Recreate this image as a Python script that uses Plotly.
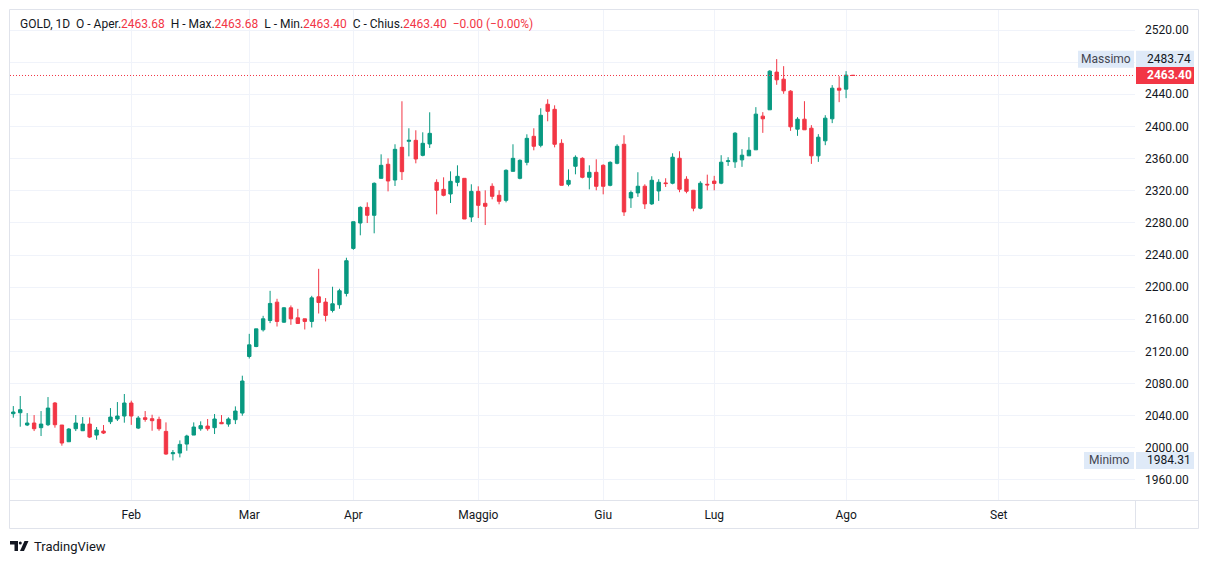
import plotly.graph_objects as go

# ---------------- data ----------------
opens = [2042.5, 2043.7, 2028.4, 2030.9, 2025.1, 2028.8, 2055.8, 2028.4, 2007.6, 2023.8,
         2021.3, 2029.6, 2015.9, 2020.9, 2032.5, 2035.9, 2039.6, 2055.8, 2024.6, 2037.5,
         2036.3, 2035.4, 2020.5, 1992.7, 1993.5, 2004.7, 2015.9, 2023.8, 2027.1, 2025.1,
         2031.7, 2029.6, 2035.0, 2043.3, 2113.7, 2126.1, 2146.9, 2158.5, 2181.3, 2156.4,
         2174.3, 2161.8, 2160.6, 2157.3, 2188.0, 2181.4, 2171.0, 2178.1, 2192.2, 2248.2,
         2279.8, 2299.3, 2289.4, 2335.4, 2352.9, 2333.3, 2374.0, 2381.5, 2382.7, 2364.0,
         2378.2, 2330.4, 2321.7, 2315.9, 2330.4, 2335.4, 2287.3, 2319.2, 2304.3, 2325.5,
         2314.3, 2308.0, 2344.1, 2335.4, 2355.3, 2387.7, 2376.5, 2427.6, 2421.3, 2379.0,
         2328.0, 2350.4, 2360.3, 2336.7, 2342.9, 2351.6, 2326.7, 2354.1, 2377.8, 2311.0,
         2317.3, 2325.6, 2303.6, 2319.7, 2329.7, 2329.3, 2360.4, 2334.3, 2320.6, 2298.2,
         2328.0, 2332.0, 2329.4, 2356.3, 2355.9, 2358.4, 2363.4, 2370.9, 2412.8, 2420.7,
         2467.6, 2458.8, 2443.9, 2396.6, 2409.0, 2397.8, 2363.4, 2382.1, 2409.5, 2447.6,
         2446.4, 2463.68]
highs = [2052.0, 2064.5, 2043.3, 2040.8, 2045.8, 2063.2, 2057.0, 2028.4, 2024.6, 2040.8,
         2038.3, 2037.9, 2025.9, 2028.4, 2049.5, 2057.0, 2067.0, 2058.7, 2039.6, 2045.8,
         2041.2, 2038.8, 2031.7, 1997.3, 2009.3, 2016.3, 2031.7, 2033.0, 2035.9, 2042.1,
         2040.8, 2038.0, 2051.6, 2089.8, 2141.9, 2148.1, 2164.3, 2195.4, 2185.5, 2175.1,
         2177.2, 2173.0, 2160.6, 2189.2, 2222.8, 2186.4, 2200.5, 2198.0, 2236.6, 2281.4,
         2300.6, 2305.5, 2330.4, 2365.3, 2360.3, 2377.8, 2431.3, 2397.7, 2395.2, 2392.7,
         2417.6, 2334.2, 2336.7, 2344.1, 2351.6, 2335.4, 2328.0, 2325.5, 2320.5, 2329.2,
         2320.5, 2346.6, 2377.8, 2359.1, 2390.2, 2397.7, 2422.6, 2433.8, 2426.3, 2384.0,
         2346.6, 2364.0, 2361.6, 2351.6, 2359.1, 2352.9, 2356.6, 2377.8, 2389.0, 2320.2,
         2343.0, 2328.0, 2338.0, 2334.3, 2335.5, 2366.6, 2369.1, 2338.0, 2320.6, 2331.8,
         2340.0, 2338.5, 2364.2, 2361.7, 2392.9, 2371.7, 2386.6, 2424.0, 2417.8, 2470.0,
         2483.74, 2475.0, 2445.1, 2411.5, 2431.4, 2401.6, 2390.4, 2414.0, 2451.4, 2462.6,
         2468.8, 2463.68]
lows = [2037.5, 2026.3, 2027.1, 2020.9, 2014.7, 2027.1, 2025.1, 2002.7, 2007.2, 2020.9,
        2020.9, 2012.2, 2010.1, 2017.2, 2029.6, 2033.4, 2031.3, 2028.6, 2023.4, 2032.5,
        2021.3, 2021.3, 1991.4, 1984.31, 1988.1, 1996.4, 2015.9, 2021.3, 2021.3, 2017.2,
        2029.6, 2026.3, 2029.6, 2040.0, 2111.2, 2125.3, 2144.8, 2155.2, 2151.0, 2155.6,
        2153.1, 2154.4, 2147.3, 2149.8, 2167.2, 2157.3, 2168.5, 2173.1, 2188.4, 2246.5,
        2264.5, 2279.8, 2267.0, 2335.4, 2319.2, 2325.9, 2333.3, 2362.8, 2354.1, 2362.8,
        2373.2, 2290.6, 2313.0, 2304.7, 2325.5, 2284.8, 2281.1, 2286.0, 2277.3, 2309.3,
        2303.1, 2305.5, 2344.1, 2334.2, 2351.6, 2370.3, 2374.0, 2406.4, 2374.0, 2326.7,
        2325.5, 2340.4, 2335.4, 2321.7, 2320.5, 2315.5, 2325.5, 2352.9, 2288.6, 2298.6,
        2312.3, 2297.3, 2302.3, 2307.3, 2324.7, 2328.0, 2318.1, 2316.8, 2294.4, 2296.9,
        2320.5, 2320.5, 2328.1, 2350.9, 2348.4, 2349.7, 2363.4, 2370.9, 2392.0, 2420.7,
        2451.8, 2440.6, 2394.5, 2388.3, 2395.8, 2353.4, 2355.9, 2376.7, 2404.1, 2430.2,
        2435.2, 2463.40]
closes = [2044.6, 2047.5, 2030.9, 2023.8, 2029.6, 2049.5, 2028.8, 2006.0, 2023.4, 2030.9,
          2029.6, 2013.4, 2022.2, 2018.4, 2038.3, 2039.6, 2055.8, 2039.6, 2037.1, 2035.4,
          2033.8, 2023.8, 1992.3, 1993.9, 2004.3, 2014.7, 2025.9, 2027.6, 2023.8, 2035.9,
          2030.0, 2035.9, 2045.8, 2083.2, 2128.2, 2148.1, 2160.6, 2179.7, 2157.3, 2174.3,
          2160.6, 2154.8, 2157.3, 2186.7, 2180.9, 2164.8, 2179.3, 2195.5, 2232.9, 2281.4,
          2299.3, 2289.4, 2329.2, 2351.6, 2332.1, 2371.5, 2343.7, 2382.7, 2359.5, 2379.0,
          2391.4, 2320.5, 2314.3, 2331.7, 2337.9, 2284.8, 2319.2, 2301.8, 2300.6, 2313.0,
          2306.8, 2345.4, 2360.3, 2357.8, 2385.2, 2375.3, 2413.9, 2418.8, 2377.8, 2326.7,
          2332.9, 2361.6, 2336.7, 2342.9, 2325.5, 2325.5, 2355.3, 2375.3, 2293.6, 2317.7,
          2325.6, 2303.6, 2333.0, 2330.5, 2328.9, 2361.7, 2321.8, 2319.3, 2298.2, 2329.3,
          2327.3, 2329.0, 2355.5, 2357.2, 2391.6, 2364.2, 2370.4, 2415.3, 2409.5, 2468.8,
          2458.0, 2444.3, 2399.5, 2409.0, 2395.8, 2363.4, 2386.6, 2410.3, 2447.6, 2445.1,
          2463.8, 2463.40]

month_labels = ["Feb", "Mar", "Apr", "Maggio", "Giu", "Lug", "Ago", "Set"]
month_bars = [17, 34, 49, 67, 85, 101, 120, 142]   # bar index where each month begins
price_ticks = [1960 + 40 * k for k in range(15)]
hidden_ticks = [2480]                              # covered by the "Massimo" price label

symbol = "GOLD, 1D"

# ---------------- styling ----------------
UP = "#089981"
DOWN = "#f23645"
TXT = "#131722"
GRID = "#f0f3fa"
BORDER = "#e0e3eb"
FONT = "Roboto"

OFF = 8                      # page body margin in the browser
W, H = 1209 - OFF, 564 - OFF
L, T = 10 - OFF, 10 - OFF    # plot area starts at (10,10) on the page
PR, PB = 1135 - OFF, 500 - OFF
R, B = W - PR, H - PB
PW, PH = PR - L, PB - T


def px(xp):                  # page pixel -> paper x
    return (xp - OFF - L) / PW


def py(yp):                  # page pixel -> paper y
    return (PB - (yp - OFF)) / PH


bars = list(range(len(opens)))

fig = go.Figure()
fig.add_trace(go.Candlestick(
    x=bars, open=opens, high=highs, low=lows, close=closes,
    increasing=dict(line=dict(color=UP, width=1), fillcolor=UP),
    decreasing=dict(line=dict(color=DOWN, width=1), fillcolor=DOWN),
    whiskerwidth=0, hoverinfo="skip", showlegend=False,
))

y0r, y1r = 1935.1, 2544.9
ppp = (y1r - y0r) / PH

hi = max(highs)
lo = min(lows)
last = closes[-1]

shapes = []
annotations = []

shapes.append(dict(type="line", xref="paper", yref="y", x0=0, x1=1, y0=last, y1=last,
                   line=dict(color=DOWN, width=1, dash="1px,2px"), layer="above"))

BOXBG = "#dfeaf8"


def label(text_name, value, x_name0, fill_val, txt_val_color, bold=False):
    hh = 8.5 * ppp
    if text_name:
        shapes.append(dict(type="rect", xref="paper", yref="y", x0=px(x_name0), x1=px(1134),
                           y0=value - hh, y1=value + hh, fillcolor=BOXBG, line=dict(width=0),
                           layer="above"))
        annotations.append(dict(xref="paper", yref="y", x=px((x_name0 + 1134) / 2), y=value,
                                text=text_name, showarrow=False, xanchor="center", yanchor="middle",
                                font=dict(family=FONT, size=12, color="#434651")))
    shapes.append(dict(type="rect", xref="paper", yref="y", x0=px(1136), x1=px(1194),
                       y0=value - hh, y1=value + hh, fillcolor=fill_val, line=dict(width=0),
                       layer="above"))
    t = f"{value:.2f}"
    if bold:
        t = f"<b>{t}</b>"
    annotations.append(dict(xref="paper", yref="y", x=px(1145), y=value, text=t,
                            showarrow=False, xanchor="left", yanchor="middle",
                            font=dict(family=FONT, size=12, color=txt_val_color)))


label("Massimo", hi, 1078, BOXBG, TXT)
label("Minimo", lo, 1084, BOXBG, TXT)
label(None, last, 0, DOWN, "white", bold=True)

# frame and separators
shapes.append(dict(type="rect", xref="paper", yref="paper", x0=px(9.5), x1=px(1198.5),
                   y0=py(528.5), y1=py(9.5), line=dict(color=BORDER, width=1), layer="above"))
shapes.append(dict(type="line", xref="paper", yref="paper", x0=px(9.5), x1=px(1198.5),
                   y0=py(500.5), y1=py(500.5), line=dict(color=BORDER, width=1), layer="above"))
shapes.append(dict(type="line", xref="paper", yref="paper", x0=px(1135.5), x1=px(1135.5),
                   y0=py(500.5), y1=py(528.5), line=dict(color=BORDER, width=1), layer="above"))

# header legend
red = lambda s: f"<span style='color:{DOWN}'>{s}</span>"
header = (f"{symbol}&nbsp;&nbsp;O - Aper.{red(f'{opens[-1]:.2f}')}&nbsp;&nbsp;"
          f"H - Max.{red(f'{highs[-1]:.2f}')}&nbsp;&nbsp;L - Min.{red(f'{lows[-1]:.2f}')}&nbsp;&nbsp;"
          f"C - Chius.{red(f'{closes[-1]:.2f}')}&nbsp;&nbsp;{red('−0.00 (−0.00%)')}")
annotations.append(dict(xref="paper", yref="paper", x=px(18), y=py(24), text=header,
                        showarrow=False, xanchor="left", yanchor="middle",
                        font=dict(family=FONT, size=12, color=TXT)))

# TradingView logo
shapes.append(dict(type="path", xref="paper", yref="paper",
                   path=(f"M {px(10)} {py(541)} L {px(18)} {py(541)} L {px(18)} {py(551)} "
                         f"L {px(14.5)} {py(551)} L {px(14.5)} {py(544.5)} L {px(10)} {py(544.5)} Z"),
                   fillcolor=TXT, line=dict(width=0)))
shapes.append(dict(type="circle", xref="paper", yref="paper", x0=px(18.8), x1=px(21.8),
                   y0=py(544.5), y1=py(541.5), fillcolor=TXT, line=dict(width=0)))
shapes.append(dict(type="path", xref="paper", yref="paper",
                   path=(f"M {px(24.5)} {py(541)} L {px(28.5)} {py(541)} L {px(24)} {py(551)} "
                         f"L {px(20)} {py(551)} Z"),
                   fillcolor=TXT, line=dict(width=0)))
annotations.append(dict(xref="paper", yref="paper", x=px(32), y=py(546), text="TradingView",
                        showarrow=False, xanchor="left", yanchor="middle",
                        font=dict(family=FONT, size=13, color=TXT)))

fig.update_layout(
    width=W, height=H,
    margin=dict(l=L, r=R, t=T, b=B, pad=0),
    paper_bgcolor="white", plot_bgcolor="white",
    showlegend=False,
    shapes=shapes, annotations=annotations,
    font=dict(family=FONT, size=12, color=TXT),
    xaxis=dict(range=[-0.476, 161.63], tickmode="array", tickvals=month_bars,
               ticktext=month_labels, showgrid=True, gridcolor=GRID, gridwidth=1,
               zeroline=False, showline=False, ticks="", rangeslider=dict(visible=False),
               tickfont=dict(family=FONT, size=12, color=TXT), ticklabelstandoff=6,
               fixedrange=True),
    yaxis=dict(side="right", range=[y0r, y1r], tickmode="array", tickvals=price_ticks,
               ticktext=["" if v in hidden_ticks else f"{v:.2f}" for v in price_ticks],
               showgrid=True, gridcolor=GRID,
               gridwidth=1, zeroline=False, showline=False, ticks="",
               tickfont=dict(family=FONT, size=12, color=TXT), ticklabelstandoff=9,
               fixedrange=True),
)

fig.write_html("out.html")
